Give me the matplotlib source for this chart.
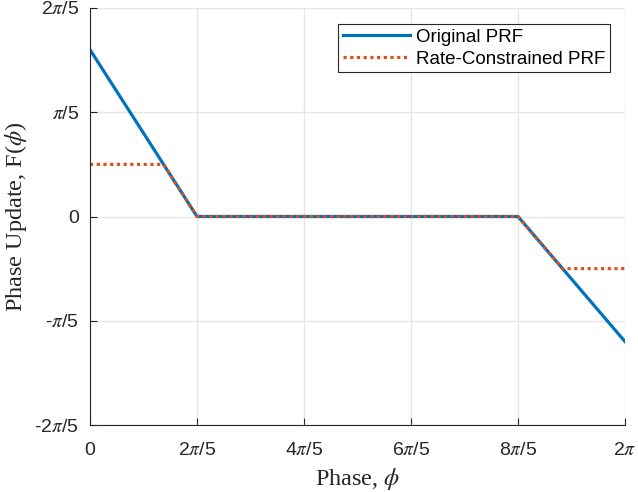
import numpy as np
import matplotlib
matplotlib.use("Agg")
import matplotlib.pyplot as plt

plt.rcParams['mathtext.fontset'] = 'stix'

pi = np.pi
# Data (in radians)
orig_x = [0, 2*pi/5, 8*pi/5, 2*pi]
orig_y = [1.6*pi/5, 0, 0, -1.2*pi/5]
rc_x = [0, 1.375*pi/5, 2*pi/5, 8*pi/5, 8*pi/5 + (0.5/0.6)*pi/5, 2*pi]
rc_y = [0.5*pi/5, 0.5*pi/5, 0, 0, -0.5*pi/5, -0.5*pi/5]

xticks = [0, 2*pi/5, 4*pi/5, 6*pi/5, 8*pi/5, 2*pi]
xticklabels = ['0', r'2$\pi$/5', r'4$\pi$/5', r'6$\pi$/5', r'8$\pi$/5', r'2$\pi$']
yticks = [-2*pi/5, -pi/5, 0, pi/5, 2*pi/5]
yticklabels = [r'-2$\pi$/5', r'-$\pi$/5', '0', r'$\pi$/5', r'2$\pi$/5']

fig = plt.figure(figsize=(6.38, 4.92), dpi=100)
ax = fig.add_axes([90/638, 1-425/492, (625-90)/638, (425-8)/492])

ax.plot(orig_x, orig_y, color='#0072BD', lw=2.3, label='Original PRF')
ax.plot(rc_x, rc_y, color='#D95319', lw=2.3, ls=(0, (1, 1.1)), label='Rate-Constrained PRF')

ax.set_xlim(0, 2*pi)
ax.set_ylim(-2*pi/5, 2*pi/5)
ax.set_xticks(xticks)
ax.set_xticklabels(xticklabels, fontfamily='Liberation Sans', fontsize=14)
ax.set_yticks(yticks)
ax.set_yticklabels(yticklabels, fontfamily='Liberation Sans', fontsize=14)
ax.grid(True, color='#e6e6e6', lw=1)
ax.set_axisbelow(True)
for s in ['top', 'right']:
    ax.spines[s].set_visible(False)
for s in ['left', 'bottom']:
    ax.spines[s].set_color('#262626')
ax.tick_params(direction='in', length=5, color='#262626', labelcolor='#262626')
ax.tick_params(axis='x', pad=12)
ax.tick_params(axis='y', pad=8)

ax.set_xlabel(r'Phase, $\phi$', fontfamily='Liberation Serif', fontsize=17.5, color='#262626', labelpad=5)
ax.set_ylabel(r'Phase Update, F($\phi$)', fontfamily='Liberation Serif', fontsize=17.5, color='#262626', labelpad=4)

leg = ax.legend(loc='upper right', bbox_to_anchor=(1 - 15/535, 1 - 16/417),
                prop={'family': 'Liberation Sans', 'size': 13.5},
                fancybox=False, edgecolor='#262626', framealpha=1, handlelength=3.6,
                borderpad=0.25, labelspacing=0.25, handletextpad=0.3, borderaxespad=0)
leg.get_frame().set_linewidth(0.8)

fig.savefig('out.png', dpi=100)
